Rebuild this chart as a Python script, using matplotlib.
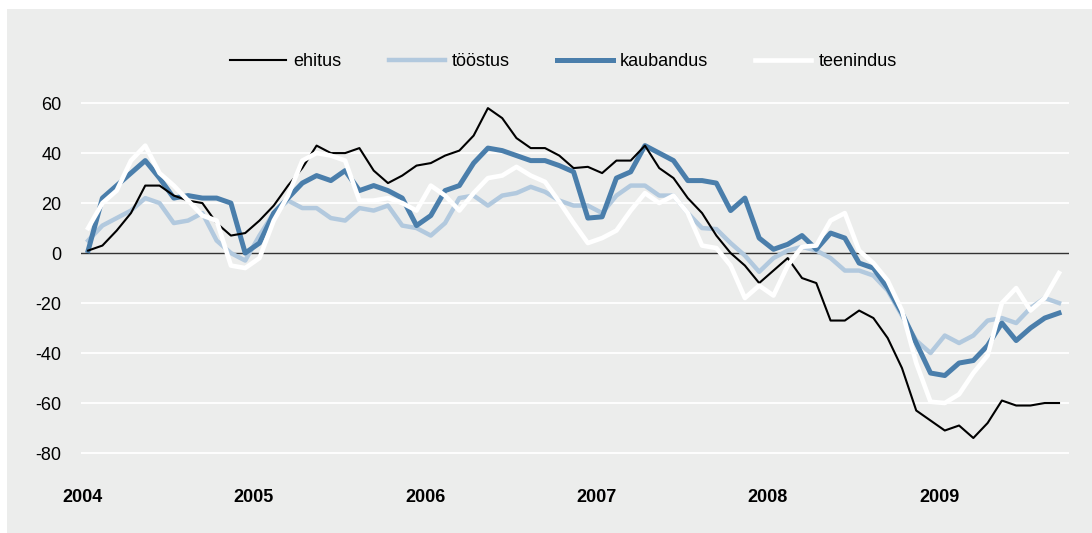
import matplotlib
matplotlib.use("Agg")
import matplotlib.pyplot as plt
from matplotlib.patches import Rectangle

plt.rcParams['font.family'] = ['Liberation Sans', 'DejaVu Sans']

# monthly values, Jan 2004 .. Sep 2009
ehitus = [1, 3, 9, 16, 27, 27, 23, 21, 20, 12, 7, 8,
          13, 19, 27, 34, 43, 40, 40, 42, 33, 28, 31, 35,
          36, 39, 41, 47, 58, 54, 46, 42, 42, 39, 34, 34.5,
          32, 37, 37, 43, 34, 30, 22, 16, 7, 0, -5, -12,
          -7, -2, -10, -12, -27, -27, -23, -26, -34, -46, -63, -67,
          -71, -69, -74, -68, -59, -61, -61, -60, -60]
toostus = [5, 11, 14, 17, 22, 20, 12, 13, 16, 5, 0, -3,
           7, 16, 21, 18, 18, 14, 13, 18, 17, 19, 11, 10,
           7, 12, 22, 23, 19, 23, 24, 26.5, 24.5, 21, 19, 19,
           16, 23, 27, 27, 23, 23, 16, 10, 9.6, 4, -1, -7.5,
           -2, 1, 2.5, 1, -2, -7, -7, -9, -15, -25, -35, -40,
           -33, -36, -33, -27, -26, -28, -22, -18, -20]
kaubandus = [1, 22, 27, 32, 37, 30, 22, 23, 22, 22, 20, 0,
             4, 16, 22, 28, 31, 29, 33, 25, 27, 25, 22, 11,
             15, 25, 27, 36, 42, 41, 39, 37, 37, 35, 32.5, 14,
             14.5, 30, 32.5, 43, 40, 37, 29, 29, 28, 17, 22, 6,
             1.5, 3.5, 7, 1.5, 8, 6, -4, -6, -14, -24, -36, -48,
             -49, -44, -43, -37, -28, -35, -30, -26, -24]
teenindus = [10, 20, 25, 37, 43, 32, 27, 21, 15, 13, -5, -6,
             -2, 13, 23, 37, 40, 39, 37, 21, 21, 22, 20, 17,
             27, 23, 17, 24, 30, 31, 34.5, 31, 28.5, 20.5, 12, 4,
             6, 9, 17, 24, 20, 23, 16, 3, 2, -5, -18, -13,
             -17, -5, 2.5, 3, 13, 16, 1, -4, -11, -23, -44, -59.5,
             -60, -56.5, -48, -41, -20, -14, -23, -18, -8]
years = ['2004', '2005', '2006', '2007', '2008', '2009']
yticks = [-80, -60, -40, -20, 0, 20, 40, 60]

bg = '#ecedec'
x = list(range(len(ehitus)))

fig = plt.figure(figsize=(10.92, 5.33), dpi=100, facecolor='white')
fig.patches.append(Rectangle((7 / 1092, 0), 1, 1 - 9 / 533, transform=fig.transFigure,
                             facecolor=bg, edgecolor='none', zorder=-10))
ax = fig.add_axes([81 / 1092, 0.1032, (1069 - 81) / 1092, 0.830 - 0.1032])
ax.set_facecolor('none')

for v in yticks:
    if v != 0:
        ax.axhline(v, color='white', lw=1.3, zorder=1)
ax.axhline(0, color='#333333', lw=1.0, zorder=2)

l1, = ax.plot(x, ehitus, color='black', lw=1.5, zorder=5, label='ehitus')
l2, = ax.plot(x, toostus, color='#b2c9de', lw=3.2, zorder=3, label='tööstus')
l3, = ax.plot(x, kaubandus, color='#4a7eab', lw=3.6, zorder=4, label='kaubandus')
l4, = ax.plot(x, teenindus, color='white', lw=3.3, zorder=6, label='teenindus')

ax.set_xlim(-0.5, 68.7)
ax.set_ylim(-90, 65)
ax.set_yticks(yticks)
ax.set_yticklabels([str(v) for v in yticks], fontsize=13)
ax.set_xticks([12 * k - 0.4 for k in range(len(years))])
ax.set_xticklabels(years, fontsize=13, fontweight='bold')
ax.tick_params(axis='y', length=0, pad=14)
ax.tick_params(axis='x', length=0, pad=8)
for s in ax.spines.values():
    s.set_visible(False)

fig.legend(handles=[l1, l2, l3, l4], loc='center', bbox_to_anchor=(0.516, 0.884),
           ncol=4, frameon=False, fontsize=13, handlelength=3.1,
           handletextpad=0.4, columnspacing=2.6)

fig.savefig('out.png', dpi=100, facecolor='white')
